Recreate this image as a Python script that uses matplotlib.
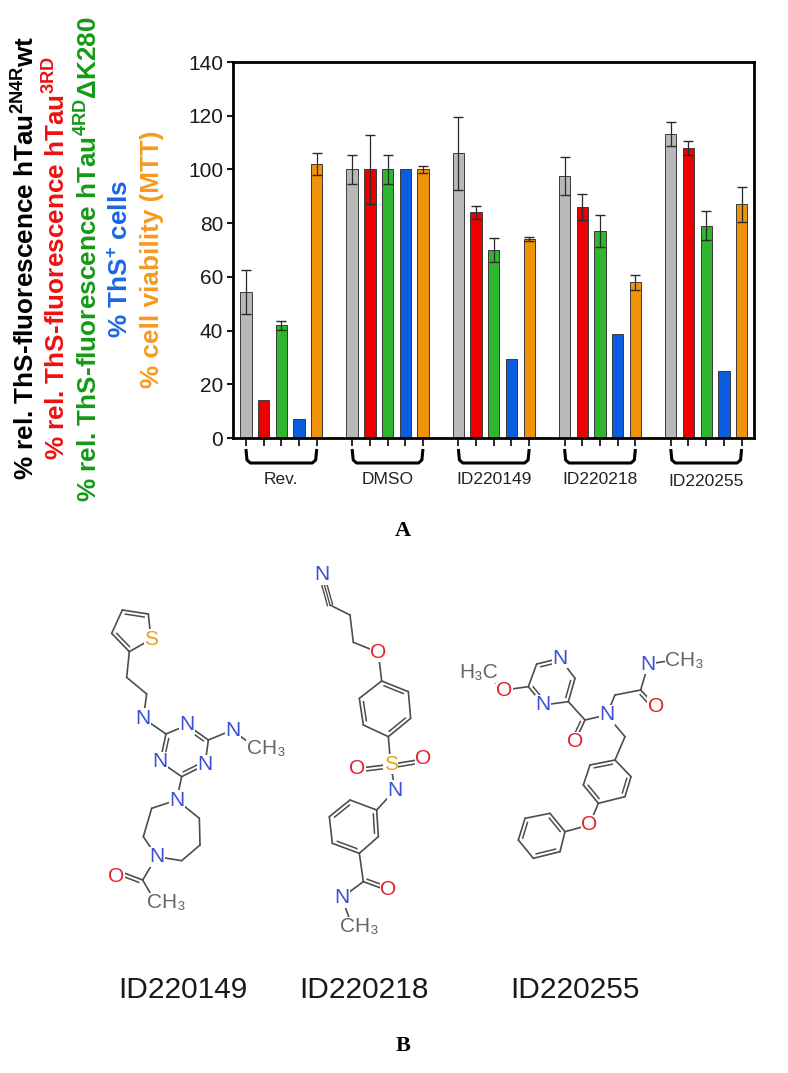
import numpy as np
import matplotlib
matplotlib.use("Agg")
import matplotlib.pyplot as plt

plt.rcParams['font.family'] = ['Liberation Sans', 'DejaVu Sans']
plt.rcParams['mathtext.fontset'] = 'custom'
plt.rcParams['mathtext.rm'] = 'Liberation Sans:bold'
plt.rcParams['mathtext.default'] = 'rm'

groups = ['Rev.', 'DMSO', 'ID220149', 'ID220218', 'ID220255']
gray = [54.5, 100, 106, 97.5, 113.3]
gray_err = [8.2, 5.5, 13.5, 7.2, 4.5]
red = [14, 100, 84, 86, 108]
red_err = [0, 13, 2.5, 4.8, 2.6]
green = [42, 100, 70, 77, 79]
green_err = [1.7, 5.5, 4.3, 6, 5.4]
blue = [7, 100, 29.5, 38.7, 25]
orange = [102, 100, 74, 58, 87]
orange_err = [4, 1.3, 0.8, 2.8, 6.5]

W, H = 788, 1073
fig = plt.figure(figsize=(W / 100, H / 100), dpi=100)
L, R, T, B = 233, 754, 62, 438
ax = fig.add_axes([L / W, 1 - B / H, (R - L) / W, (B - T) / H])

series = [
    (gray, gray_err, '#b8b8b8'),
    (red, red_err, '#ee0000'),
    (green, green_err, '#2fb62f'),
    (blue, None, '#0a5fe0'),
    (orange, orange_err, '#f0930a'),
]
STEP = 6
x0 = np.arange(len(groups)) * STEP
for k, (vals, errs, col) in enumerate(series):
    ax.bar(x0 + k, vals, width=0.64, color=col, edgecolor='#3a3a3a', linewidth=0.7, zorder=2)
    if errs is not None:
        xe = [x for x, e in zip(x0 + k, errs) if e > 0]
        ve = [v for v, e in zip(vals, errs) if e > 0]
        ee = [e for e in errs if e > 0]
        ax.errorbar(xe, ve, yerr=ee, fmt='none', ecolor='#2a2a2a', elinewidth=0.9,
                    capsize=3.8, capthick=1.0, zorder=3)

ax.set_xlim(-0.73, 28.7)
ax.set_ylim(0, 140)
ax.set_yticks(range(0, 141, 20))
ax.tick_params(axis='y', labelsize=15, length=4, width=1.5, pad=3, colors='#1a1a1a')
ax.set_xticks(np.concatenate([x0 + k for k in range(5)]))
ax.set_xticklabels([])
ax.tick_params(axis='x', length=6, width=1.3, color='#1a1a1a')
for s in ax.spines.values():
    s.set_linewidth(2)
    s.set_color('black')

# group brackets and names
tr = ax.get_xaxis_transform()
def yfrac(py):
    return (B - py) / (B - T)
for i, g in enumerate(groups):
    xs = [x0[i], x0[i] + 0.06, x0[i] + 0.25, x0[i] + 3.75, x0[i] + 3.94, x0[i] + 4]
    ys = [449, 460, 463, 463, 460, 449]
    ax.plot(xs, [yfrac(p) for p in ys], transform=tr, color='black', lw=2.2,
            clip_on=False, solid_capstyle='butt')
    ax.text(x0[i] + 2, yfrac(481 if i == 4 else 479), g, transform=tr, ha='center', va='center',
            fontsize=12.5, color='#222222')

# overlay in pixel coordinates for all the free text and the structures
ov = fig.add_axes([0, 0, 1, 1], zorder=5)
ov.set_xlim(0, W)
ov.set_ylim(H, 0)
ov.axis('off')
ov.patch.set_alpha(0)

labels = [
    (26, 258, '% rel. ThS-fluorescence hTau$^{2N4R}$wt', '#000000'),
    (57, 258, '% rel. ThS-fluorescence hTau$^{3RD}$', '#ee1111'),
    (89, 259, '% rel. ThS-fluorescence hTau$^{4RD}$ΔK280', '#159a15'),
    (121, 259, '% ThS$^{+}$ cells', '#1a66e6'),
    (152, 259, '% cell viability (MTT)', '#f79a1e'),
]
for x, y, s, c in labels:
    ov.text(x, y, s, rotation=90, ha='center', va='center', fontsize=18.8,
            fontweight='bold', color=c)

for x, y, s in [(403, 531, 'A'), (403, 1046, 'B')]:
    ov.text(x, y, s, ha='center', va='center', fontsize=16, fontweight='bold',
            family='Liberation Serif', color='black')
for x, s in [(183, 'ID220149'), (364, 'ID220218'), (575, 'ID220255')]:
    ov.text(x, 990, s, ha='center', va='center', fontsize=21.5, color='#1a1a1a')

BOND = '#4d4d4d'
ACOL = {'N': '#3b4fd8', 'O': '#e1222c', 'S': '#e8a21e'}

def molecule(ox, oy, bonds, doubles, triples, atoms, texts):
    f = lambda p: (ox + p[0] / 3, oy + p[1] / 3)
    for a, b in bonds:
        (x1, y1), (x2, y2) = f(a), f(b)
        ov.plot([x1, x2], [y1, y2], color=BOND, lw=1.2, zorder=1, solid_capstyle='round')
    for a, b, c in doubles:          # c: point on the side of the second stroke
        (x1, y1), (x2, y2), (cx, cy) = f(a), f(b), f(c)
        dx, dy = x2 - x1, y2 - y1
        n = np.hypot(dx, dy)
        nx, ny = -dy / n, dx / n
        if nx * (cx - x1) + ny * (cy - y1) < 0:
            nx, ny = -nx, -ny
        off = 3.6
        ov.plot([x1 + nx * off + dx * .14, x2 + nx * off - dx * .14],
                [y1 + ny * off + dy * .14, y2 + ny * off - dy * .14],
                color=BOND, lw=1.1, zorder=1)
    for a, b in triples:
        (x1, y1), (x2, y2) = f(a), f(b)
        dx, dy = x2 - x1, y2 - y1
        n = np.hypot(dx, dy)
        nx, ny = -dy / n, dx / n
        for o in (-2.6, 0, 2.6):
            ov.plot([x1 + nx * o, x2 + nx * o], [y1 + ny * o, y2 + ny * o], color=BOND, lw=1.0, zorder=1)
    for p, s in atoms:
        x, y = f(p)
        ov.text(x, y, s, ha='center', va='center', fontsize=15, color=ACOL[s], zorder=3,
                bbox=dict(facecolor='white', edgecolor='none', pad=0.3))
    for p, s in texts:
        x, y = f(p)
        ov.text(x, y, s, ha='center', va='center', fontsize=15, color='#666666', zorder=3,
                bbox=dict(facecolor='white', edgecolor='none', pad=0.3))

# ID220149
s_, c2, c3, c4, c5 = (183, 148), (118, 185), (65, 130), (97, 60), (175, 72)
n1 = (160, 385)
t = [(228, 432), (292, 405), (355, 450), (345, 525), (275, 560), (210, 515)]
tc = (282, 482)
d = [(260, 630), (328, 685), (330, 765), (275, 812), (200, 800), (160, 740), (185, 655)]
molecule(90, 590,
    [(c2, c3), (c3, c4), (c4, c5), (c5, s_), (s_, c2), (c2, (110, 262)), ((110, 262), (170, 312)),
     ((170, 312), n1), (n1, t[0])] + [(t[i], t[(i + 1) % 6]) for i in range(6)] +
    [(t[2], (428, 420)), ((428, 420), (485, 465)), (t[4], d[0])] +
    [(d[i], d[(i + 1) % 7]) for i in range(7)] +
    [(d[4], (158, 870)), ((158, 870), (100, 848)), ((158, 870), (180, 908))],
    [(c2, c3, (120, 110)), (c4, c5, (120, 110)), (t[0], t[5], tc), (t[1], t[2], tc), (t[3], t[4], tc),
     ((158, 870), (100, 848), (100, 890))],
    [],
    [((183, 148), 'S'), (n1, 'N'), (t[1], 'N'), (t[3], 'N'), (t[5], 'N'), ((428, 420), 'N'),
     (d[0], 'N'), (d[4], 'N'), ((78, 858), 'O')],
    [((528, 475), 'CH₃'), ((228, 938), 'CH₃')])

# ID220218
r1 = [(245, 378), (325, 410), (332, 490), (265, 545), (190, 510), (178, 430)]
r1c = (255, 462)
r2 = [(230, 765), (150, 735), (88, 785), (97, 865), (178, 895), (235, 845)]
r2c = (162, 815)
S = (272, 628)
molecule(300, 555,
    [((90, 150), (150, 180)), ((150, 180), (160, 262)), ((160, 262), (235, 292)), ((235, 292), r1[0])] +
    [(r1[i], r1[(i + 1) % 6]) for i in range(6)] + [(r1[3], S), (S, (285, 705)), ((285, 705), r2[0])] +
    [(r2[i], r2[(i + 1) % 6]) for i in range(6)] +
    [(r2[4], (190, 980)), ((190, 980), (245, 1000)), ((190, 980), (125, 1028)), ((125, 1028), (150, 1095)),
     (S, (172, 640)), (S, (370, 612))],
    [(r1[0], r1[1], r1c), (r1[2], r1[3], r1c), (r1[4], r1[5], r1c),
     (r2[1], r2[2], r2c), (r2[3], r2[4], r2c), (r2[0], r2[5], r2c),
     ((190, 980), (245, 1000), (230, 960)), (S, (172, 640), (220, 680)), (S, (370, 612), (320, 660))],
    [((65, 60), (90, 150))],
    [((65, 60), 'N'), ((235, 292), 'O'), (S, 'S'), ((172, 640), 'O'), ((370, 612), 'O'), ((285, 705), 'N'),
     ((265, 1003), 'O'), ((125, 1028), 'N')],
    [((178, 1115), 'CH₃')])

# ID220255
p = [(235, 140), (260, 72), (330, 55), (375, 115), (355, 185), (280, 195)]
pc = (305, 125)
q = [(495, 360), (420, 375), (400, 435), (445, 490), (525, 470), (543, 410)]
qc = (472, 425)
u = [(345, 575), (300, 520), (225, 535), (205, 600), (250, 655), (330, 635)]
uc = (270, 588)
Nc = (470, 225)
molecule(450, 640,
    [((125, 118), (163, 150)), ((163, 150), p[0])] + [(p[i], p[(i + 1) % 6]) for i in range(6)] +
    [(p[4], (405, 240)), ((405, 240), (375, 305)), ((405, 240), Nc), (Nc, (495, 165)), ((495, 165), (572, 150)),
     ((572, 150), (617, 198)), ((572, 150), (595, 72)), ((595, 72), (660, 62)), (Nc, (525, 290)), ((525, 290), q[0])] +
    [(q[i], q[(i + 1) % 6]) for i in range(6)] +
    [(q[3], (418, 555)), ((418, 555), u[0])] + [(u[i], u[(i + 1) % 6]) for i in range(6)],
    [(p[0], p[5], pc), (p[1], p[2], pc), (p[3], p[4], pc), ((405, 240), (375, 305), (360, 240)),
     ((572, 150), (617, 198), (550, 190)), (q[0], q[1], qc), (q[2], q[3], qc), (q[4], q[5], qc),
     (u[0], u[1], uc), (u[2], u[3], uc), (u[4], u[5], uc)],
    [],
    [((163, 150), 'O'), (p[2], 'N'), (p[5], 'N'), ((375, 305), 'O'), (Nc, 'N'), ((617, 198), 'O'),
     ((595, 72), 'N'), ((418, 555), 'O')],
    [((85, 98), 'H₃C'), ((703, 60), 'CH₃')])

fig.savefig('out.png', dpi=100)
